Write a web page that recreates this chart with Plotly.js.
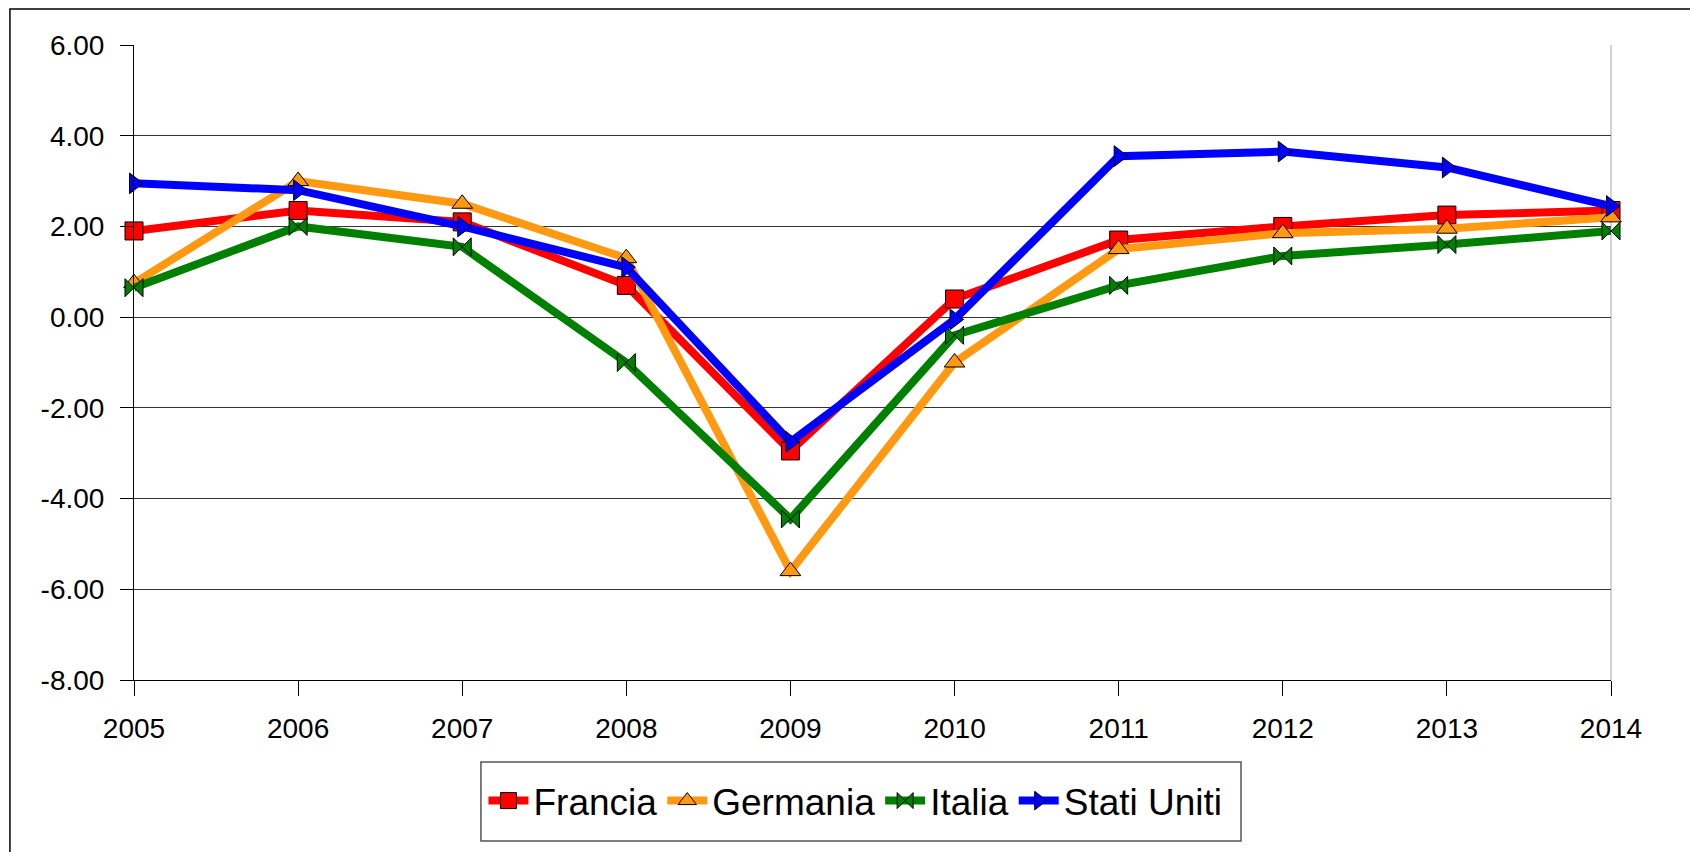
<!DOCTYPE html>
<html>
<head>
<meta charset="utf-8">
<script src="https://cdn.plot.ly/plotly-3.0.1.min.js"></script>
<style>
  body { margin: 0; background: #fff; }
  #chart { width: 1690px; height: 852px; }
</style>
</head>
<body>
<div id="chart"></div>
<script>
// Anni sull'asse x
const years = [2005, 2006, 2007, 2008, 2009, 2010, 2011, 2012, 2013, 2014];

// Valori (variazione %)
const francia    = [1.9, 2.35, 2.1, 0.7, -2.95, 0.4, 1.7, 2.0, 2.25, 2.35];
const germania   = [0.75, 3.0, 2.5, 1.3, -5.6, -1.0, 1.5, 1.85, 1.95, 2.2];
const italia     = [0.65, 2.0, 1.55, -1.0, -4.45, -0.4, 0.7, 1.35, 1.6, 1.9];
const statiUniti = [2.95, 2.8, 2.0, 1.1, -2.75, -0.05, 3.55, 3.65, 3.3, 2.45];

// Etichette asse y (trattino normale, due decimali)
const yTickVals = [-8, -6, -4, -2, 0, 2, 4, 6];
const yTickText = ['-8.00', '-6.00', '-4.00', '-2.00', '0.00', '2.00', '4.00', '6.00'];

const seriesNames = ['Francia', 'Germania', 'Italia', 'Stati Uniti'];
const seriesColors = ['#FF0000', '#FF9912', '#008000', '#0000FF'];
const seriesSymbols = ['square', 'triangle-up', 'bowtie', 'triangle-right'];
const seriesData = [francia, germania, italia, statiUniti];

const traces = seriesData.map((vals, i) => ({
  x: years,
  y: vals,
  name: seriesNames[i],
  type: 'scatter',
  mode: 'lines+markers',
  cliponaxis: false,
  line: { color: seriesColors[i], width: 8 },
  marker: {
    symbol: seriesSymbols[i],
    size: 18,
    color: seriesColors[i],
    line: { color: '#000', width: 1 }
  }
}));

const layout = {
  width: 1690,
  height: 852,
  paper_bgcolor: '#fff',
  plot_bgcolor: '#fff',
  font: { family: 'Arial, "Liberation Sans", sans-serif', size: 28, color: '#000' },
  margin: { l: 134, r: 79, t: 45, b: 172 },
  showlegend: true,
  legend: {
    orientation: 'h',
    x: 0.2366,
    xanchor: 'left',
    y: -0.1906,
    yanchor: 'middle',
    font: { size: 37 },
    itemwidth: 40,
    bgcolor: 'rgba(0,0,0,0)',
    borderwidth: 0
  },
  xaxis: {
    range: [2005, 2014],
    tickvals: years,
    ticktext: years.map(String),
    showgrid: false,
    zeroline: false,
    showline: true,
    linecolor: '#000',
    linewidth: 1,
    ticks: 'outside',
    ticklen: 15,
    tickcolor: '#000',
    ticklabelstandoff: 8,
    tickfont: { size: 28 }
  },
  yaxis: {
    range: [-8, 6],
    tickvals: yTickVals,
    ticktext: yTickText,
    showgrid: true,
    gridcolor: '#333',
    gridwidth: 1,
    zeroline: false,
    showline: true,
    linecolor: '#000',
    linewidth: 1,
    ticks: 'outside',
    ticklen: 13,
    tickcolor: '#000',
    ticklabelstandoff: 10,
    tickfont: { size: 28 }
  },
  shapes: [
    // cornice esterna del grafico
    { type: 'rect', xref: 'paper', yref: 'paper', x0: -0.084, x1: 1.2, y0: -0.4, y1: 1.0567,
      line: { color: '#000', width: 1.5 }, fillcolor: 'rgba(0,0,0,0)', layer: 'below' },
    // bordo destro dell'area del grafico
    { type: 'line', xref: 'paper', yref: 'paper', x0: 1, x1: 1, y0: 0, y1: 1,
      line: { color: '#aaa', width: 1 }, layer: 'below' },
    // riquadro della legenda
    { type: 'rect', xref: 'paper', yref: 'paper', x0: 0.2349, x1: 0.7495, y0: -0.2535, y1: -0.1291,
      line: { color: '#555', width: 1.5 }, fillcolor: 'rgba(0,0,0,0)' }
  ]
};

Plotly.newPlot('chart', traces, layout, { displayModeBar: false, staticPlot: true });
</script>
</body>
</html>
